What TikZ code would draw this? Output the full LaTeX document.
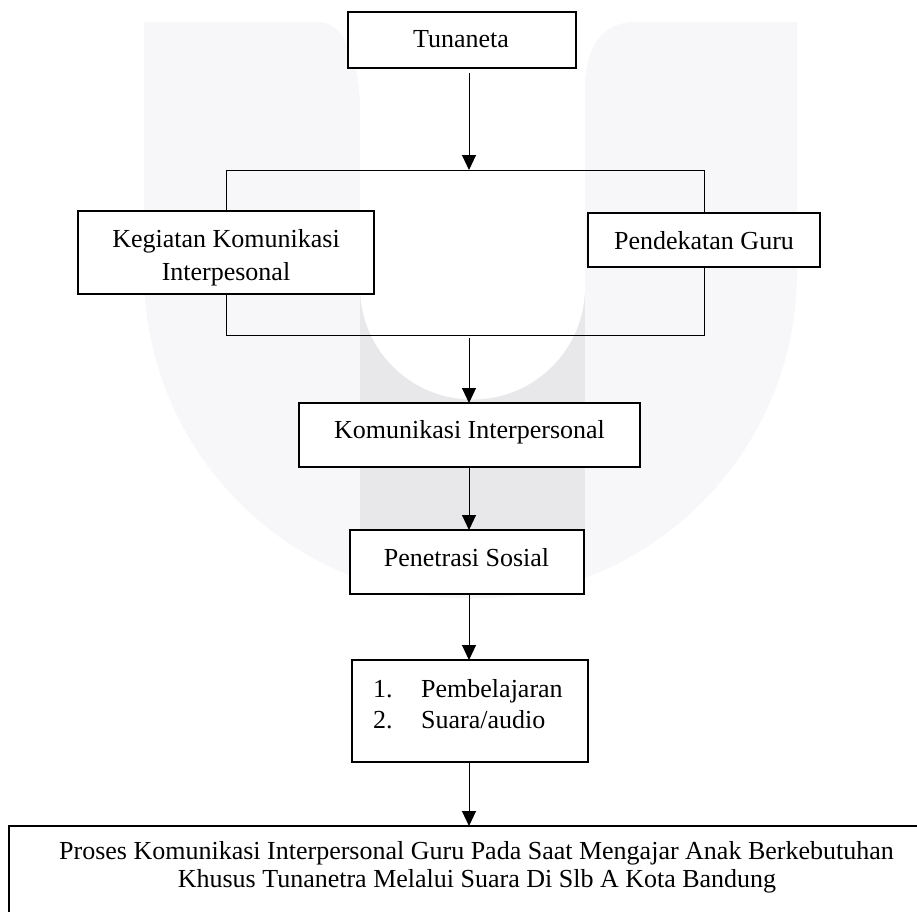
\documentclass[tikz,border=0pt]{standalone}
\usepackage{fontspec}
\setmainfont{Liberation Serif}
\usetikzlibrary{arrows.meta,calc}
\definecolor{wmlight}{RGB}{247,247,249}
\definecolor{wmdark}{RGB}{232,232,235}
\begin{document}
\begin{tikzpicture}[x=1pt,y=-1pt,
  box/.style={draw=black, line width=1.3pt, fill=white, inner sep=0pt, outer sep=0pt, anchor=north west},
  txt/.style={inner sep=0pt, anchor=base, font=\fontsize{26}{30}\selectfont},
  ln/.style={line width=1pt},
  arr/.style={line width=1pt, -{Triangle[width=14pt,length=15pt]}}]
\clip (0,0) rectangle (917,911);
\fill[white] (0,0) rectangle (917,911);
% watermark
\fill[wmlight] (144,22) -- (797,22) -- (797,272) arc[start angle=0,end angle=180,radius=326.5] -- cycle;
\fill[wmdark] (360,110) rectangle (585,560);
\fill[white] (318,18) -- (318,22) .. controls (345,22) and (360,60) .. (360,110) -- (360,287)
  arc[start angle=180,end angle=0,radius=112.5] -- (585,90) .. controls (585,45) and (603,22) .. (635,22) -- (635,18) -- cycle;
% boxes
\node[box, minimum width=228pt, minimum height=56pt] (tun) at (348,12) {};
\node[box, minimum width=296pt, minimum height=83pt] (keg) at (78,211) {};
\node[box, minimum width=232pt, minimum height=54pt] (pend) at (588,213) {};
\node[box, minimum width=341pt, minimum height=64pt] (kom) at (299,403) {};
\node[box, minimum width=234pt, minimum height=64pt] (pen) at (350,530) {};
\node[box, minimum width=236pt, minimum height=102pt] (lst) at (352,660) {};
\node[box, minimum width=931pt, minimum height=130pt] (fin) at (9,826) {};
% connectors
\coordinate (ax) at (469,0);
\coordinate (topbar) at (0,170);
\coordinate (botbar) at (0,335);
\draw[ln] (keg.north) -- (keg.north |- topbar) -- (pend.north |- topbar) -- (pend.north);
\draw[ln] (keg.south) -- (keg.south |- botbar) -- (pend.south |- botbar) -- (pend.south);
\draw[arr] ($(tun.south -| ax)+(0,5)$) -- (ax |- topbar);
\draw[arr] ($(ax |- botbar)+(0,3)$) -- (ax |- kom.north);
\draw[arr] (ax |- kom.south) -- (ax |- pen.north);
\draw[arr] (ax |- pen.south) -- (ax |- lst.north);
\draw[arr] (ax |- lst.south) -- (ax |- fin.north);
% texts
\node[txt] (tunT) at (461,47) {Tunaneta};
\node[txt] (kegT1) at (226,247) {Kegiatan Komunikasi};
\node[txt] (kegT2) at (226,280) {Interpesonal};
\node[txt] (pendT) at (704,249) {Pendekatan Guru};
\node[txt] (komT) at (469.5,438) {Komunikasi Interpersonal};
\node[txt] (penT) at (466.5,566) {Penetrasi Sosial};
\node[txt, anchor=base west] (l1n) at (373,697) {1.};
\node[txt, anchor=base west] (l1t) at (421,697) {Pembelajaran};
\node[txt, anchor=base west] (l2n) at (373,728) {2.};
\node[txt, anchor=base west] (l2t) at (421,728) {Suara/audio};
\node[txt] (finT1) at (476.5,859) {Proses Komunikasi Interpersonal Guru Pada Saat Mengajar Anak Berkebutuhan};
\node[txt] (finT2) at (477,887) {Khusus Tunanetra Melalui Suara Di Slb A Kota Bandung};
\end{tikzpicture}
\end{document}
